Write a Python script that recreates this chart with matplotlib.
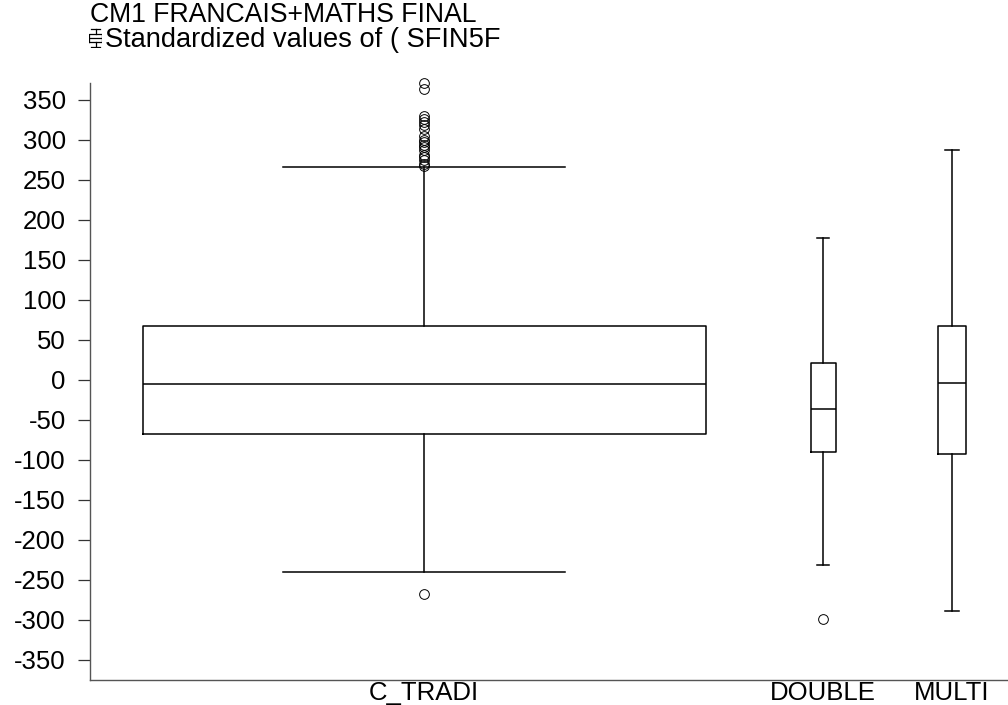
import matplotlib
matplotlib.use("Agg")
import matplotlib.pyplot as plt

plt.rcParams['font.family'] = ['Liberation Sans', 'DejaVu Sans']

# box plot summaries per class type
groups = ["C_TRADI", "DOUBLE", "MULTI"]
q1 = [-67, -90, -92]
medians = [-5, -36, -4]
q3 = [67, 21, 67]
whisk_lo = [-240, -231, -289]
whisk_hi = [266, 177, 287]
outliers = [
    [371, 363, 330, 326, 322, 318, 314, 305, 300, 297, 294, 291, 287,
     281, 278, 275, 270, 267, -268],
    [-299],
    [],
]
yticks = list(range(-350, 351, 50))

# layout (x in pixel-like units along the axis)
positions = [334, 733, 862]
widths = [563, 25, 28]

W, H = 1008, 705
fig = plt.figure(figsize=(W / 100, H / 100), dpi=100)
ax = fig.add_axes([90 / W, 25 / H, (W - 90) / W, (680 - 83) / H])

stats = []
for i, g in enumerate(groups):
    stats.append(dict(label=g, med=medians[i], q1=q1[i], q3=q3[i],
                      whislo=whisk_lo[i], whishi=whisk_hi[i], fliers=outliers[i]))

lw = 1.1
parts = ax.bxp(stats, positions=positions, widths=widths,
               capwidths=[w / 2 for w in widths],
               boxprops=dict(color='black', linewidth=lw),
               medianprops=dict(color='black', linewidth=lw),
               whiskerprops=dict(color='black', linewidth=lw),
               capprops=dict(color='black', linewidth=lw),
               flierprops=dict(marker='o', markersize=7, markerfacecolor='none',
                               markeredgecolor='black', markeredgewidth=0.7))
for f in parts['fliers']:
    f.set_clip_on(False)

ax.set_xlim(0, W - 90)
ax.set_ylim(-375, 371)
ax.set_yticks(yticks)
ax.set_yticklabels([str(t) for t in yticks])
ax.set_xticks(positions)
ax.set_xticklabels(groups)

for s in ['top', 'right']:
    ax.spines[s].set_visible(False)
for s in ['left', 'bottom']:
    ax.spines[s].set_color('#555555')
    ax.spines[s].set_linewidth(1.0)

ax.tick_params(axis='y', length=9, width=0.9, color='#333333', pad=8.5, labelsize=18.5)
ax.tick_params(axis='x', length=0, pad=1, labelsize=18.5)

# title lines
fig.text(90 / W, 1 - 22 / H, "CM1 FRANCAIS+MATHS FINAL", fontsize=19.2,
         ha='left', va='baseline')
fig.text(105 / W, 1 - 47 / H, "Standardized values of ( SFIN5F", fontsize=19.6,
         ha='left', va='baseline')

# small box-plot key next to the second title line
key = fig.add_axes([89 / W, 1 - 48 / H, 13 / W, 20 / H])
key.bxp([dict(med=0.5, q1=0.3, q3=0.72, whislo=0.0, whishi=1.0, fliers=[])],
        positions=[0.5], widths=[0.95], capwidths=[0.75], showfliers=False,
        boxprops=dict(color='black', linewidth=0.9),
        medianprops=dict(color='black', linewidth=0.9),
        whiskerprops=dict(color='black', linewidth=0.9),
        capprops=dict(color='black', linewidth=0.9))
key.set_xlim(0, 1)
key.set_ylim(-0.03, 1.03)
key.axis('off')

fig.savefig("out.png", dpi=100)
